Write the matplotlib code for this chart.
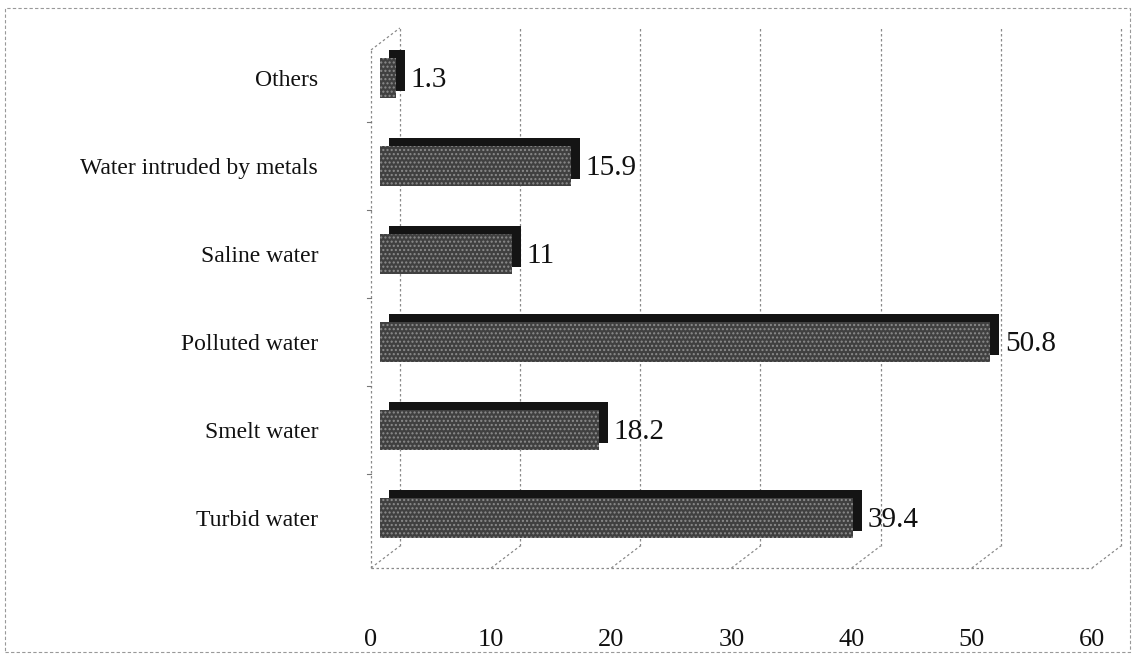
import matplotlib
matplotlib.use("Agg")
import matplotlib.pyplot as plt
from matplotlib.patches import Rectangle

categories = ["Turbid water", "Smelt water", "Polluted water", "Saline water",
              "Water intruded by metals", "Others"]
values = [39.4, 18.2, 50.8, 11, 15.9, 1.3]
value_labels = ["39.4", "18.2", "50.8", "11", "15.9", "1.3"]
xticks = [0, 10, 20, 30, 40, 50, 60]

plt.rcParams['font.family'] = ['Liberation Serif', 'DejaVu Serif']
plt.rcParams['hatch.linewidth'] = 1.0

fig = plt.figure(figsize=(11.35, 6.56), dpi=100)
ax = fig.add_axes([371/1135, 88/656, 721/1135, 540/656])
ax.set_xlim(0, 60)
ax.set_ylim(-0.57, 5.57)
for s in ax.spines.values():
    s.set_visible(False)

# depth offsets (data units)
dx, dy = 2.4, 0.25
y0 = -0.57
ytop = 5.57
grid_kw = dict(color='#8a8a8a', lw=0.9, ls=(0, (2, 2)), clip_on=False, zorder=1)
for t in xticks[1:]:
    ax.plot([t + dx, t + dx], [y0 + dy, ytop], **grid_kw)
    ax.plot([t, t + dx], [y0, y0 + dy], **grid_kw)
# left wall
ax.plot([0, 0], [y0, ytop - dy], **grid_kw)
ax.plot([dx, dx], [y0 + dy, ytop], **grid_kw)
ax.plot([0, dx], [ytop - dy, ytop], **grid_kw)
ax.plot([0, dx], [y0, y0 + dy], **grid_kw)
# floor front line
ax.plot([0, 60], [y0, y0], **grid_kw)
# small ticks on left wall between categories
for yb in [0.5, 1.5, 2.5, 3.5, 4.5]:
    ax.plot([-0.3, 0], [yb, yb], color='#777777', lw=0.8, clip_on=False, zorder=1)

# bars: back (top/side face) and front face
ypos = list(range(len(categories)))
bh = 0.46
xoff = 0.75
ax.barh([y + 0.085 for y in ypos], values, height=bh, left=xoff + 0.75,
        color='#141414', edgecolor='none', zorder=2)
ax.barh(ypos, values, height=bh, left=xoff, color='#404040', edgecolor='#8c8c8c',
        lw=0, hatch='....', zorder=3)

for y, v, lab in zip(ypos, values, value_labels):
    ax.text(v + xoff + 1.2, y - 0.02, lab, fontsize=21, va='center', ha='left',
            color='#111111', zorder=4)

ax.set_yticks(ypos)
ax.set_yticklabels(categories, fontsize=17, color='#111111')
ax.tick_params(axis='y', length=0, pad=38)
ax.set_xticks(xticks)
ax.set_xticklabels([str(t) for t in xticks], fontsize=19, color='#111111')
ax.tick_params(axis='x', length=0, pad=44)

# outer frame
fig.patches.append(Rectangle((5/1135, 4/656), 1 - 10/1135, 1 - 12/656,
                             transform=fig.transFigure, fill=False,
                             edgecolor='#999999', lw=0.8, ls=(0, (3, 2))))

fig.savefig("out.png", dpi=100)
